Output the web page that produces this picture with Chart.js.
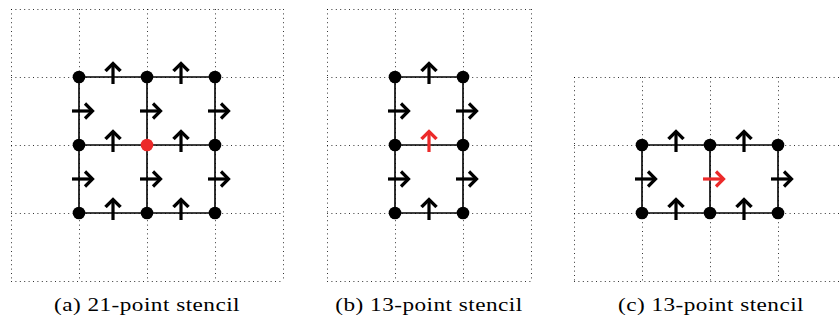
<!DOCTYPE html>
<html>
<head>
<meta charset="utf-8">
<script src="https://cdn.jsdelivr.net/npm/chart.js@4.4.0/dist/chart.umd.min.js"></script>
<style>
  body { margin: 0; width: 839px; height: 323px; overflow: hidden; background: #fff; position: relative; }
  canvas { position: absolute; }
  .cap { position: absolute; top: 294px; width: 260px; text-align: center; font-family: "Liberation Serif", serif; font-size: 19.5px; letter-spacing: 0.4px; color: #000; white-space: nowrap; transform: scaleX(1.19); }
</style>
</head>
<body>
<canvas id="stencilA" width="276" height="276" style="left:9px;top:7px"></canvas>
<canvas id="stencilB" width="208" height="276" style="left:325px;top:7px"></canvas>
<canvas id="stencilC" width="276" height="208" style="left:572px;top:75px"></canvas>
<div class="cap" id="capA" style="left:17px"></div>
<div class="cap" id="capB" style="left:299px"></div>
<div class="cap" id="capC" style="left:581px"></div>
<script>
// DATA (grid units)
const captions = ['(a) 21-point stencil', '(b) 13-point stencil', '(c) 13-point stencil'];

// (a) 21-point stencil
const gridA = { xMax: 4, yMax: 4 };
const nodeColsA = [1, 2, 3];
const nodeRowsA = [1, 2, 3];
const redNodeA = [[2, 2]];
const upArrowsA = [[1.5, 1], [2.5, 1], [1.5, 2], [2.5, 2], [1.5, 3], [2.5, 3]];
const rightArrowsA = [[1, 1.5], [2, 1.5], [3, 1.5], [1, 2.5], [2, 2.5], [3, 2.5]];
const redUpA = [];
const redRightA = [];

// (b) 13-point stencil
const gridB = { xMax: 3, yMax: 4 };
const nodeColsB = [1, 2];
const nodeRowsB = [1, 2, 3];
const redNodeB = [];
const upArrowsB = [[1.5, 1], [1.5, 3]];
const rightArrowsB = [[1, 1.5], [2, 1.5], [1, 2.5], [2, 2.5]];
const redUpB = [[1.5, 2]];
const redRightB = [];

// (c) 13-point stencil
const gridC = { xMax: 4, yMax: 3 };
const nodeColsC = [1, 2, 3];
const nodeRowsC = [1, 2];
const redNodeC = [];
const upArrowsC = [[1.5, 1], [2.5, 1], [1.5, 2], [2.5, 2]];
const rightArrowsC = [[1, 1.5], [3, 1.5]];
const redUpC = [];
const redRightC = [[2, 1.5]];

const RED = '#ec2a2a';

// arrow glyph pointing right, offset so the point sits near the tail
function makeArrow(color) {
    const c = document.createElement('canvas');
    c.width = 34; c.height = 34;
    const g = c.getContext('2d');
    g.strokeStyle = color;
    g.lineWidth = 3.2;
    g.lineCap = 'butt';
    g.lineJoin = 'miter';
    g.beginPath();
    g.moveTo(10, 17);
    g.lineTo(30, 17);
    g.stroke();
    g.beginPath();
    g.moveTo(23, 9.5);
    g.lineTo(30.5, 17);
    g.lineTo(23, 24.5);
    g.stroke();
    return c;
}
const arrowBlack = makeArrow('#000');
const arrowRed = makeArrow(RED);

const pts = arr => arr.map(p => ({ x: p[0], y: p[1] }));

function buildStencil(id, grid, cols, rows, redNodes, ups, rights, redUps, redRights) {
    const isRed = (x, y) => redNodes.some(p => p[0] === x && p[1] === y);
    const blackNodes = [];
    rows.forEach(y => cols.forEach(x => { if (!isRed(x, y)) blackNodes.push([x, y]); }));

    // edges between neighbouring nodes, split with gaps
    const edges = [];
    rows.forEach(y => {
        edges.push({ x: cols[0], y: y }, { x: cols[cols.length - 1], y: y }, { x: null, y: null });
    });
    cols.forEach(x => {
        edges.push({ x: x, y: rows[0] }, { x: x, y: rows[rows.length - 1] }, { x: null, y: null });
    });

    const axis = (max) => ({
        type: 'linear',
        min: 0,
        max: max,
        ticks: { display: false, stepSize: 1 },
        grid: { color: 'rgba(0,0,0,0.8)', lineWidth: 1, drawTicks: false },
        border: { display: false, dash: [1, 3.4] }
    });

    new Chart(document.getElementById(id), {
        type: 'scatter',
        data: {
            datasets: [
                { data: pts(blackNodes), pointRadius: 6.3, backgroundColor: '#000', borderWidth: 0 },
                { data: pts(redNodes), pointRadius: 6.3, backgroundColor: RED, borderWidth: 0 },
                { data: pts(ups), pointStyle: arrowBlack, rotation: -90 },
                { data: pts(rights), pointStyle: arrowBlack, rotation: 0 },
                { data: pts(redUps), pointStyle: arrowRed, rotation: -90 },
                { data: pts(redRights), pointStyle: arrowRed, rotation: 0 },
                { type: 'line', data: edges, borderColor: '#000', borderWidth: 1.6, pointRadius: 0, spanGaps: false, fill: false }
            ]
        },
        options: {
            responsive: false,
            animation: false,
            layout: { padding: 2, autoPadding: false },
            plugins: { legend: { display: false }, tooltip: { enabled: false } },
            events: [],
            scales: { x: axis(grid.xMax), y: axis(grid.yMax) }
        }
    });
}

buildStencil('stencilA', gridA, nodeColsA, nodeRowsA, redNodeA, upArrowsA, rightArrowsA, redUpA, redRightA);
buildStencil('stencilB', gridB, nodeColsB, nodeRowsB, redNodeB, upArrowsB, rightArrowsB, redUpB, redRightB);
buildStencil('stencilC', gridC, nodeColsC, nodeRowsC, redNodeC, upArrowsC, rightArrowsC, redUpC, redRightC);

document.getElementById('capA').innerText = captions[0];
document.getElementById('capB').innerText = captions[1];
document.getElementById('capC').innerText = captions[2];
</script>
</body>
</html>
